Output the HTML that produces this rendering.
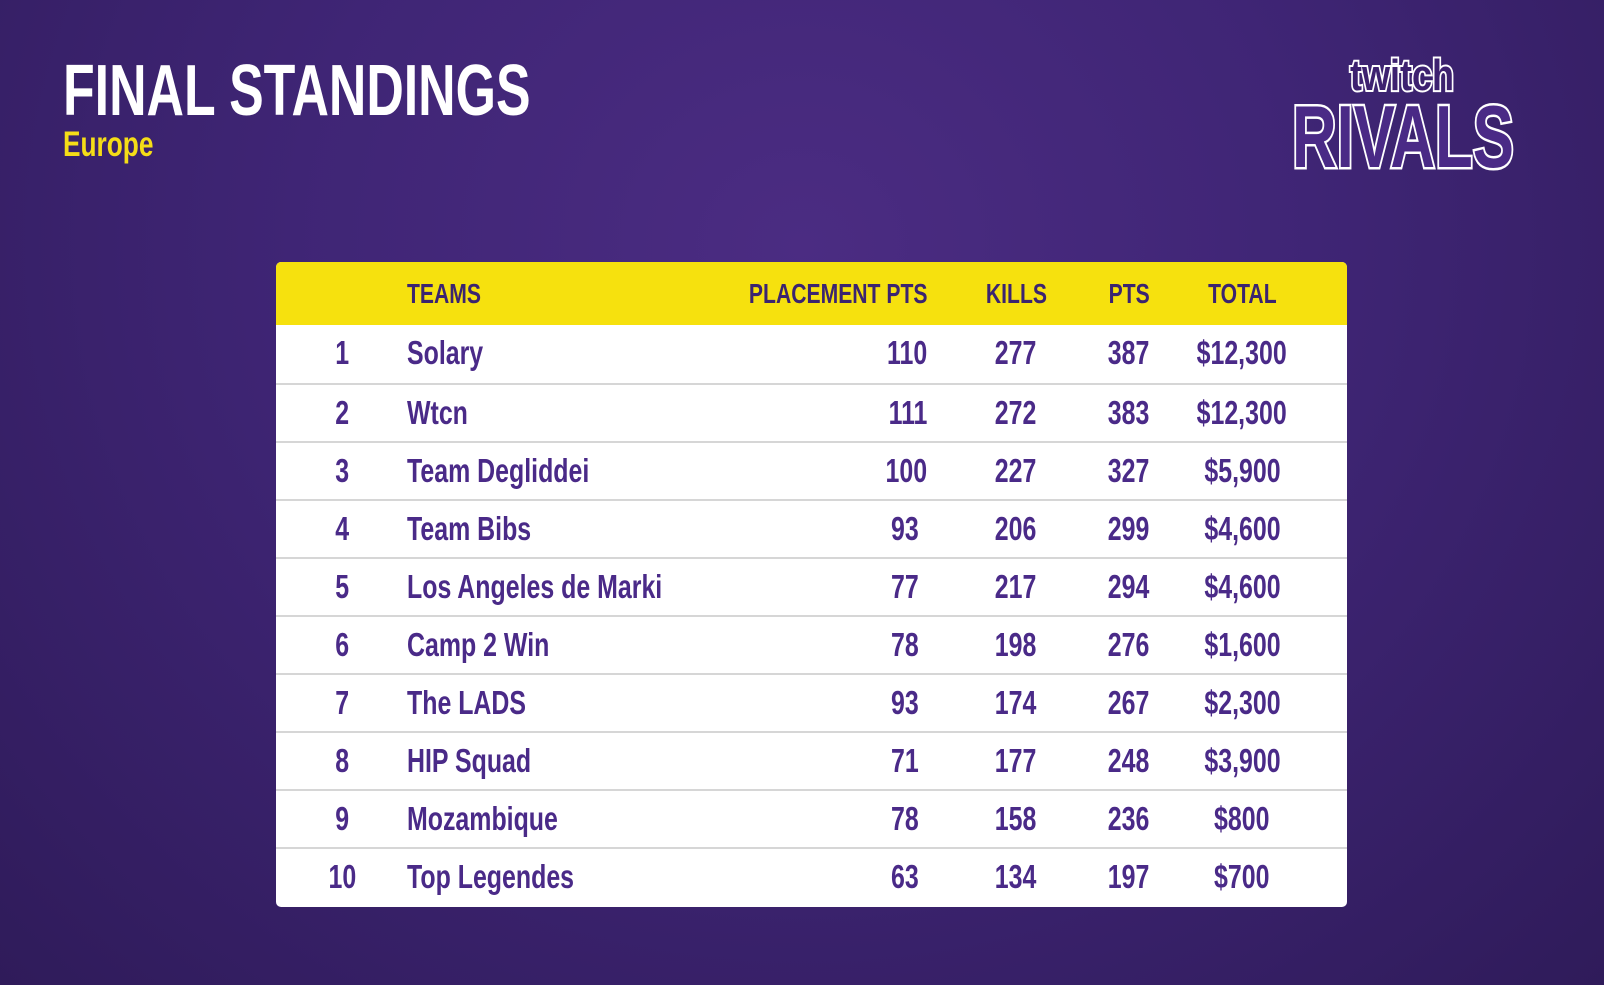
<!DOCTYPE html>
<html><head><meta charset="utf-8"><style>
html,body{margin:0;padding:0}
body{width:1604px;height:985px;overflow:hidden;position:relative;font-family:"Liberation Sans Narrow","Liberation Sans",sans-serif;font-weight:bold;
background:radial-gradient(ellipse at 50% 25%,#4b2c82 0%,#3f2575 45%,#2f1b5a 100%);}
.t{position:absolute;white-space:nowrap}
.s{display:inline-block;transform:scaleX(.755)}
.title{left:63px;top:50px;font-size:72px;color:#fff;}
.eu{left:63px;top:125px;font-size:35px;color:#f5dd17}
.tbl{position:absolute;left:276px;top:262px;width:1071px;height:645px;background:#fff;border-radius:5px;overflow:hidden}
.hd{position:absolute;left:0;top:0;width:100%;height:63px;background:#f6e10e}
.row{position:absolute;left:0;width:100%;height:58px;border-top:2px solid #d6d6d6;box-sizing:border-box}
.c{position:absolute;top:0;height:100%;line-height:56px;color:#4a2a88;font-size:33px;white-space:nowrap}
.hd .c{line-height:63px;font-size:28px;color:#3b2470}
.l{left:131px}
.l .s{transform-origin:left}
.r{text-align:right}
.r .s{transform-origin:right}
.m{text-align:center}
.tt{left:886px !important;width:160px !important}
</style></head><body>
<div class="t title"><span class="s" style="transform-origin:left;transform:scaleX(.72)">FINAL STANDINGS</span></div>
<div class="t eu"><span class="s" style="transform-origin:left;transform:scaleX(.75)">Europe</span></div>
<svg style="position:absolute;left:1280px;top:45px" width="250" height="135">
<text x="122" y="45" text-anchor="middle" font-family="Liberation Sans" font-weight="bold" font-size="44" fill="#3d2170" stroke="#fff" stroke-width="4" paint-order="stroke" textLength="104" lengthAdjust="spacingAndGlyphs">twitch</text>
<text x="123" y="122" text-anchor="middle" font-family="Liberation Sans" font-weight="bold" font-size="88" fill="#4a2a86" stroke="#fff" stroke-width="5" paint-order="stroke" textLength="222" lengthAdjust="spacingAndGlyphs">RIVALS</text>
</svg>
<div class="tbl">
<div class="hd">
<div class="c l"><span class="s">TEAMS</span></div>
<div class="c r" style="right:420px"><span class="s">PLACEMENT PTS</span></div>
<div class="c m" style="left:690px;width:100px"><span class="s">KILLS</span></div>
<div class="c m" style="left:803px;width:100px"><span class="s">PTS</span></div>
<div class="c m tt"><span class="s">TOTAL</span></div>
</div>
<div class="row" style="top:63px;border-top:none"><div class="c m" style="left:41px;width:50px"><span class="s">1</span></div><div class="c l"><span class="s">Solary</span></div><div class="c r" style="right:420px"><span class="s">110</span></div><div class="c m" style="left:690px;width:100px"><span class="s">277</span></div><div class="c m" style="left:803px;width:100px"><span class="s">387</span></div><div class="c m tt"><span class="s">$12,300</span></div></div>
<div class="row" style="top:121px"><div class="c m" style="left:41px;width:50px"><span class="s">2</span></div><div class="c l"><span class="s">Wtcn</span></div><div class="c r" style="right:420px"><span class="s">111</span></div><div class="c m" style="left:690px;width:100px"><span class="s">272</span></div><div class="c m" style="left:803px;width:100px"><span class="s">383</span></div><div class="c m tt"><span class="s">$12,300</span></div></div>
<div class="row" style="top:179px"><div class="c m" style="left:41px;width:50px"><span class="s">3</span></div><div class="c l"><span class="s">Team Degliddei</span></div><div class="c r" style="right:420px"><span class="s">100</span></div><div class="c m" style="left:690px;width:100px"><span class="s">227</span></div><div class="c m" style="left:803px;width:100px"><span class="s">327</span></div><div class="c m tt"><span class="s">$5,900</span></div></div>
<div class="row" style="top:237px"><div class="c m" style="left:41px;width:50px"><span class="s">4</span></div><div class="c l"><span class="s">Team Bibs</span></div><div class="c r" style="right:428px"><span class="s">93</span></div><div class="c m" style="left:690px;width:100px"><span class="s">206</span></div><div class="c m" style="left:803px;width:100px"><span class="s">299</span></div><div class="c m tt"><span class="s">$4,600</span></div></div>
<div class="row" style="top:295px"><div class="c m" style="left:41px;width:50px"><span class="s">5</span></div><div class="c l"><span class="s">Los Angeles de Marki</span></div><div class="c r" style="right:428px"><span class="s">77</span></div><div class="c m" style="left:690px;width:100px"><span class="s">217</span></div><div class="c m" style="left:803px;width:100px"><span class="s">294</span></div><div class="c m tt"><span class="s">$4,600</span></div></div>
<div class="row" style="top:353px"><div class="c m" style="left:41px;width:50px"><span class="s">6</span></div><div class="c l"><span class="s">Camp 2 Win</span></div><div class="c r" style="right:428px"><span class="s">78</span></div><div class="c m" style="left:690px;width:100px"><span class="s">198</span></div><div class="c m" style="left:803px;width:100px"><span class="s">276</span></div><div class="c m tt"><span class="s">$1,600</span></div></div>
<div class="row" style="top:411px"><div class="c m" style="left:41px;width:50px"><span class="s">7</span></div><div class="c l"><span class="s">The LADS</span></div><div class="c r" style="right:428px"><span class="s">93</span></div><div class="c m" style="left:690px;width:100px"><span class="s">174</span></div><div class="c m" style="left:803px;width:100px"><span class="s">267</span></div><div class="c m tt"><span class="s">$2,300</span></div></div>
<div class="row" style="top:469px"><div class="c m" style="left:41px;width:50px"><span class="s">8</span></div><div class="c l"><span class="s">HIP Squad</span></div><div class="c r" style="right:428px"><span class="s">71</span></div><div class="c m" style="left:690px;width:100px"><span class="s">177</span></div><div class="c m" style="left:803px;width:100px"><span class="s">248</span></div><div class="c m tt"><span class="s">$3,900</span></div></div>
<div class="row" style="top:527px"><div class="c m" style="left:41px;width:50px"><span class="s">9</span></div><div class="c l"><span class="s">Mozambique</span></div><div class="c r" style="right:428px"><span class="s">78</span></div><div class="c m" style="left:690px;width:100px"><span class="s">158</span></div><div class="c m" style="left:803px;width:100px"><span class="s">236</span></div><div class="c m tt"><span class="s">$800</span></div></div>
<div class="row" style="top:585px"><div class="c m" style="left:41px;width:50px"><span class="s">10</span></div><div class="c l"><span class="s">Top Legendes</span></div><div class="c r" style="right:428px"><span class="s">63</span></div><div class="c m" style="left:690px;width:100px"><span class="s">134</span></div><div class="c m" style="left:803px;width:100px"><span class="s">197</span></div><div class="c m tt"><span class="s">$700</span></div></div>
</div>
</body></html>
